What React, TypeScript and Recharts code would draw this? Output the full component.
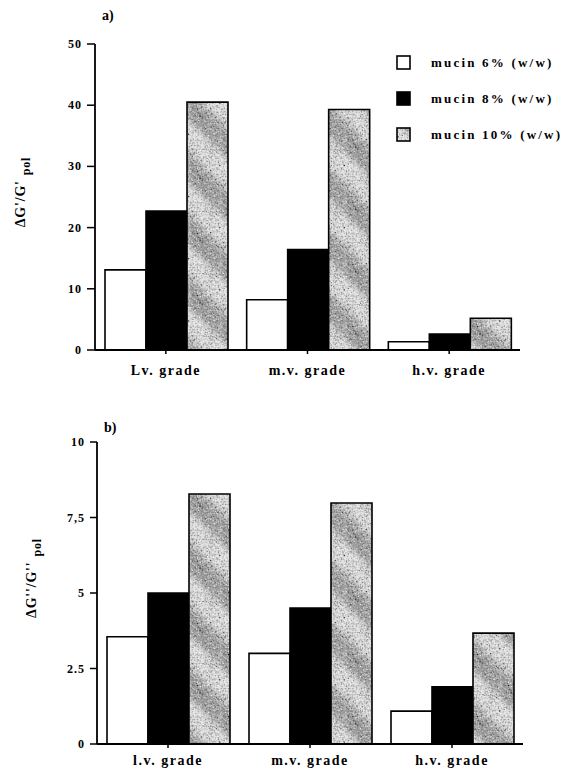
import { BarChart, Bar, XAxis, YAxis } from "recharts";

// panel a) storage modulus increment
const gradesA = ["Lv. grade", "m.v. grade", "h.v. grade"];
const mucin6A = [13.1, 8.2, 1.35];
const mucin8A = [22.7, 16.4, 2.6];
const mucin10A = [40.5, 39.3, 5.2];
const ticksA = [0, 10, 20, 30, 40, 50];

// panel b) loss modulus increment
const gradesB = ["l.v. grade", "m.v. grade", "h.v. grade"];
const mucin6B = [3.55, 3.0, 1.09];
const mucin8B = [5.0, 4.5, 1.89];
const mucin10B = [8.28, 7.98, 3.67];
const ticksB = [0, 2.5, 5, 7.5, 10];
const tickLabelsB = ["0", "2.5", "5", "7,5", "10"];

const seriesNames = ["mucin 6% (w/w)", "mucin 8% (w/w)", "mucin 10% (w/w)"];

const FONT = "'Liberation Serif', 'Times New Roman', serif";
const fills = ["#ffffff", "#000000", "url(#hatch)"];

const dataA = gradesA.map((g, i) => ({ grade: g, m6: mucin6A[i], m8: mucin8A[i], m10: mucin10A[i] }));
const dataB = gradesB.map((g, i) => ({ grade: g, m6: mucin6B[i], m8: mucin8B[i], m10: mucin10B[i] }));

function Defs() {
  return (
    <svg width={0} height={0} style={{ position: "absolute" }}>
      <defs>
        <filter id="grain" x="0" y="0" width="1" height="1">
          <feTurbulence type="fractalNoise" baseFrequency="1.6" numOctaves="1" seed="5" result="n" />
          <feColorMatrix in="n" type="matrix" values="0 0 0 0 0  0 0 0 0 0  0 0 0 0 0  3.5 0 0 0 -1.75" result="dark" />
          <feColorMatrix in="n" type="matrix" values="0 0 0 0 1  0 0 0 0 1  0 0 0 0 1  -3.5 0 0 0 1.6" result="light" />
          <feMerge>
            <feMergeNode in="SourceGraphic" />
            <feMergeNode in="dark" />
            <feMergeNode in="light" />
          </feMerge>
        </filter>
        <linearGradient id="stripe" x1="0" y1="0" x2="1" y2="0">
          <stop offset="0" stopColor="#dedede" />
          <stop offset="0.22" stopColor="#a2a2a2" />
          <stop offset="0.46" stopColor="#a2a2a2" />
          <stop offset="0.7" stopColor="#dedede" />
          <stop offset="1" stopColor="#dedede" />
        </linearGradient>
        <pattern id="hatch" patternUnits="userSpaceOnUse" width={44} height={44} patternTransform="rotate(-45)">
          <rect x={0} y={0} width={44} height={44} fill="url(#stripe)" filter="url(#grain)" />
        </pattern>
      </defs>
    </svg>
  );
}

function LegendBox() {
  return (
    <div style={{ position: "absolute", left: 396, top: 45, fontFamily: FONT, fontWeight: "bold", fontSize: 13, letterSpacing: 2.2 }}>
      {seriesNames.map((n, i) => (
        <div key={n} style={{ display: "flex", alignItems: "center", height: 36 }}>
          <svg width={16} height={16} style={{ marginRight: 19 }}>
            <rect x={1} y={1} width={13} height={13} fill={fills[i]} stroke="#000" strokeWidth={1.6} />
          </svg>
          <span>{n}</span>
        </div>
      ))}
    </div>
  );
}

function yLabel(cx: number, cy: number, main: string, panel: string, px: number, py: number) {
  return () => (
    <g fontFamily={FONT} fontWeight="bold" fill="#000">
      <text transform={`translate(${cx},${cy}) rotate(-90)`} textAnchor="middle" fontSize={14} letterSpacing={0.8}>
        {main}
        <tspan fontSize={12} dy={5} dx={5}>pol</tspan>
      </text>
      <text x={px} y={py} fontSize={14}>{panel}</text>
    </g>
  );
}

function xTick(dy: number) {
  return (props: any) => (
    <text x={props.x} y={props.y} dy={dy} textAnchor="middle" fontFamily={FONT} fontWeight="bold"
      fontSize={14} letterSpacing={1.5} fill="#000">
      {props.payload.value}
    </text>
  );
}

function yTick(labels?: string[], values?: number[]) {
  return (props: any) => {
    const v = props.payload.value;
    const label = labels && values ? labels[values.indexOf(v)] : String(v);
    return (
      <text x={props.x} y={props.y} dx={-3} dy={4} textAnchor="end" fontFamily={FONT} fontWeight="bold"
        fontSize={12} letterSpacing={1} fill="#000">
        {label}
      </text>
    );
  };
}

const axisLine = { stroke: "#000", strokeWidth: 1.8 };
const tickLine = { stroke: "#000", strokeWidth: 1.5 };

export default function App() {
  return (
    <div style={{ position: "absolute", left: 0, top: 0, width: 570, height: 772, background: "#fff" }}>
      <Defs />
      <div style={{ position: "absolute", left: 0, top: 0 }}>
        <BarChart width={570} height={390} data={dataA} barCategoryGap={10} barGap={0}
          margin={{ top: 44, right: 50, bottom: 15, left: 55 }}>
          <XAxis dataKey="grade" height={25} axisLine={axisLine} tickLine={tickLine} tickSize={4}
            tick={xTick(19)} interval={0} />
          <YAxis domain={[0, 50]} ticks={ticksA} width={40} axisLine={axisLine} tickLine={tickLine}
            tickSize={8} tick={yTick()} label={{ content: yLabel(25, 192, "ΔG'/G'", "a)", 102, 20) }} />
          {["m6", "m8", "m10"].map((k, i) => (
            <Bar key={k} dataKey={k} name={seriesNames[i]} fill={fills[i]} stroke="#000" strokeWidth={1.6}
              isAnimationActive={false} />
          ))}
        </BarChart>
      </div>
      <LegendBox />
      <div style={{ position: "absolute", left: 0, top: 390 }}>
        <BarChart width={570} height={382} data={dataB} barCategoryGap={10} barGap={0}
          margin={{ top: 52, right: 47, bottom: 6, left: 57 }}>
          <XAxis dataKey="grade" height={22} axisLine={axisLine} tickLine={tickLine} tickSize={4}
            tick={xTick(15)} interval={0} />
          <YAxis domain={[0, 10]} ticks={ticksB} width={40} axisLine={axisLine} tickLine={tickLine}
            tickSize={7} tick={yTick(tickLabelsB, ticksB)}
            label={{ content: yLabel(36, 188, "ΔG''/G''", "b)", 104, 42) }} />
          {["m6", "m8", "m10"].map((k, i) => (
            <Bar key={k} dataKey={k} name={seriesNames[i]} fill={fills[i]} stroke="#000" strokeWidth={1.6}
              isAnimationActive={false} />
          ))}
        </BarChart>
      </div>
    </div>
  );
}
